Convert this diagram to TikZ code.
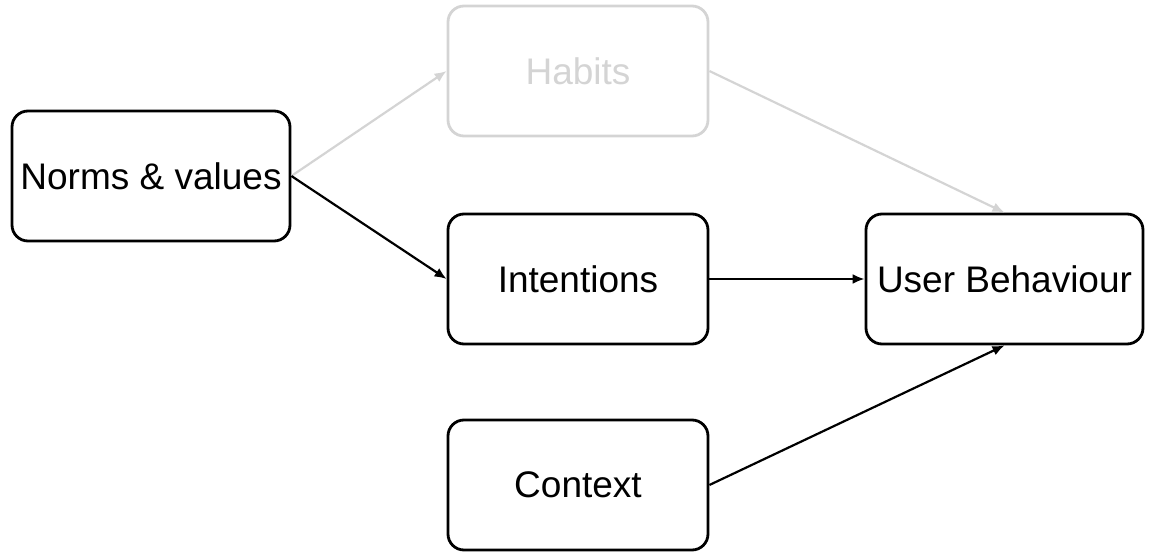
\documentclass[tikz,border=0pt]{standalone}
\usepackage{fontspec}
\setmainfont{Liberation Sans}
\usetikzlibrary{arrows.meta}

\definecolor{faded}{RGB}{212,212,212}

\begin{document}
\begin{tikzpicture}[x=0.5pt, y=-0.5pt]
\tikzset{box/.style = {rectangle, rounded corners=8pt, draw=black, line width=1.4pt,
    minimum width=130pt, minimum height=65pt, inner sep=0pt, font=\fontsize{18.5}{22}\selectfont}}
\tikzset{edge/.style = {-{Latex[length=6pt,width=5pt]}, line width=1.1pt}}

   \useasboundingbox (0,0) rectangle (1153,556);

   \node[box, minimum width=139pt] (norms) at (151,176) {Norms \& values};
   \node[box, draw=faded, text=faded] (habits) at (578,71) {Habits};
   \node[box] (intentions) at (578,279) {Intentions};
   \node[box] (context) at (578,485) {Context};
   \node[box, minimum width=138.5pt] (behaviour) at (1004.5,279) {User Behaviour};

   \draw[edge, faded] (norms.east) -- (habits.west);
   \draw[edge] (norms.east) -- (intentions.west);
   \draw[edge] (intentions.east) -- (behaviour.west);
   \draw[edge, faded] (habits.east) -- (behaviour.north);
   \draw[edge] (context.east) -- (behaviour.south);

\end{tikzpicture}
\end{document}
